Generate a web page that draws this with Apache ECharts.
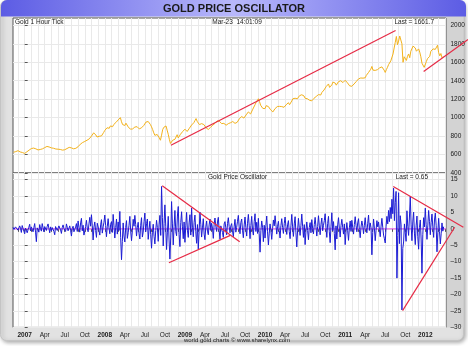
<!DOCTYPE html>
<html><head><meta charset="utf-8">
<style>html,body{margin:0;padding:0;background:#fff;}#c{width:468px;height:346px;}</style>
<script src="https://cdn.jsdelivr.net/npm/echarts@6.0.0/dist/echarts.min.js"></script>
</head><body><div id="c"></div>
<script>
// x values are months counted from 1 Jan 2007
// Gold price sampled 6 times per month, starting 10 Nov 2006
const goldStartMonth = -5 / 3;
const goldStepMonth = 1 / 6;
const goldPrice = [
  625, 636, 632, 638,
  642, 633, 628, 618, 622, 610,
  612, 622, 630, 641, 648, 660,   665, 678, 670, 674, 662, 648,   650, 660, 655, 668, 662, 668,
  675, 690, 688, 680, 682, 678,   672, 663, 668, 672, 660, 654,   658, 662, 655, 645, 648, 651,
  652, 660, 665, 672, 678, 680,   672, 666, 662, 657, 668, 672,   685, 698, 712, 722, 730, 738,
  742, 748, 755, 772, 770, 785,   800, 818, 835, 825, 812, 790,   790, 798, 808, 802, 818, 840,
  862, 880, 890, 905, 885, 910,   910, 902, 925, 938, 948, 968,   975, 990, 1000, 955, 925, 935,
  915, 940, 925, 900, 890, 875,   868, 878, 885, 898, 912, 902,   888, 878, 872, 890, 900, 915,
  935, 952, 968, 958, 950, 925,   900, 870, 835, 808, 828, 818,   805, 780, 755, 810, 870, 895,
  885, 910, 865, 820, 765, 720,   728, 755, 740, 765, 790, 815,   780, 795, 820, 838, 850, 868,
  875, 862, 850, 845, 885, 905,   920, 935, 945, 968, 990, 960,   940, 925, 915, 935, 950, 925,
  905, 890, 880, 872, 890, 895,   905, 918, 925, 938, 955, 965,   980, 960, 945, 935, 930, 938,
  930, 918, 912, 935, 950, 945,   952, 958, 945, 938, 942, 950,   958, 990, 1000, 1012, 1008, 995,
  1002, 1030, 1050, 1062, 1058, 1040,   1060, 1092, 1110, 1140, 1165, 1185,   1205, 1175, 1135, 1118, 1100, 1095,
  1098, 1130, 1150, 1120, 1100, 1085,   1082, 1062, 1070, 1098, 1115, 1120,   1130, 1122, 1108, 1120, 1105, 1112,
  1125, 1140, 1155, 1162, 1140, 1160,   1180, 1205, 1225, 1210, 1190, 1205,   1222, 1238, 1230, 1248, 1245, 1235,
  1210, 1195, 1205, 1190, 1188, 1172,   1182, 1198, 1210, 1222, 1230, 1238,   1250, 1258, 1245, 1272, 1288, 1300,
  1315, 1338, 1348, 1365, 1328, 1345,   1355, 1385, 1405, 1375, 1352, 1370,   1390, 1410, 1400, 1388, 1380, 1395,
  1405, 1385, 1378, 1360, 1345, 1330,   1340, 1352, 1365, 1385, 1392, 1408,   1420, 1412, 1430, 1418, 1428, 1440,
  1432, 1458, 1470, 1490, 1505, 1525,   1555, 1515, 1500, 1512, 1495, 1520,   1535, 1540, 1528, 1550, 1545, 1515,
  1490, 1520, 1545, 1575, 1595, 1615,   1625, 1690, 1755, 1815, 1880, 1790,   1830, 1885, 1900, 1800, 1600, 1660,
  1640, 1620, 1665, 1690, 1650, 1720,   1730, 1775, 1790, 1755, 1720, 1700,   1745, 1710, 1660, 1590, 1610, 1545,
  1565, 1610, 1640, 1660, 1665, 1720,   1740, 1745, 1725, 1740, 1760, 1785,   1705, 1670, 1695, 1650, 1662
];
// Oscillator sampled 8 times per month, starting 8 Nov 2006
const oscStartMonth = -1.75;
const oscStepMonth = 0.125;
const oscillator = [
  0.5, -0.2, -0.8, 0.6, 1.2, 0.3, -0.4, -1.0, 0.9, 0.2, -1.1, 1.0, 0.6, -0.7,
  -1.5, 0.2, 0.8, -1.2, -0.3, 0.5, 1.4, -0.6,    0.6, 1.1, -0.9, 0.4, 1.6, -1.0, -3.9, 0.3,
  0.4, -1.0, 1.3, 0.1, -0.7, 1.6, 1.1, -0.9,     0.7, 1.2, -0.5, 0.8, 1.5, 0.2, -1.2, 0.6,
  -0.6, 0.4, 1.0, -0.8, -1.8, 0.7, 0.5, -0.5,    -0.9, 0.9, 0.6, -0.3, -1.4, 0.4, 1.2, 0.1,
  0.3, -0.8, 1.5, 0.5, -0.6, -1.2, 0.9, -0.4,    -2.2, 0.1, 0.8, -0.9, -1.3, 0.6, 1.6, -0.8,
  2.4, 0.5, -1.0, 1.8, 3.2, -0.6, 1.1, -1.9,     -1.8, 0.7, 2.6, 0.2, -0.9, 1.5, 3.5, 0.8,
  4.3, 0.9, -3.4, 0.6, 2.1, -0.5, -2.6, 1.7,     1.5, -0.4, -1.9, 1.2, 2.8, -1.3, 0.6, 2.0,
  4.2, 1.0, -2.4, 0.8, 3.1, 0.3, -1.5, 1.4,      2.2, -1.1, 4.4, 0.9, -2.8, 0.4, 3.0, -1.6,
  2.1, -0.5, 5.3, -2.6, -9.4, -3.8, 1.8, -2.2,   -4.0, 0.4, 2.5, -2.9, -1.2, 1.1, 3.8, -0.7,
  -3.6, -0.6, 2.9, 0.8, 4.1, 1.3, -2.2, 0.5,     2.0, -1.4, -3.1, 1.1, 3.4, -2.5, -1.0, 2.2,
  4.8, -0.9, 1.6, 3.0, -3.2, -0.3, 2.3, -1.8,    -5.9, -1.2, 1.4, -2.3, -4.6, -0.5, 2.6, 0.4,
  -3.8, 1.2, 4.1, -2.0, 12.9, 3.5, -5.2, 1.6,    7.3, 0.8, -6.3, -1.0, 3.8, -3.4, -9.2, -2.5,
  8.3, 1.5, -4.9, 0.7, 5.6, -0.8, -2.1, 3.9,     6.8, -1.7, -5.4, 1.9, 5.2, 0.6, -3.0, 2.1,
  -4.1, 0.9, 5.0, -0.4, -2.6, 1.8, 4.3, -1.9,    6.3, 0.5, -2.4, 2.0, 4.2, -0.9, -4.4, 1.3,
  -6.1, -0.8, 5.1, 1.4, -2.5, 0.3, 3.1, -1.6,    -3.3, 0.6, 2.4, -0.7, -1.8, 1.2, 3.0, -0.5,
  1.7, 0.2, -2.9, 1.4, 3.3, 0.8, -0.8, 2.1,      3.5, -0.4, -3.2, 0.9, 1.3, -1.1, -2.6, 1.5,
  2.2, 0.3, -1.8, 1.6, 3.4, 0.7, -1.2, 0.9,      1.6, -0.6, -2.4, 0.8, 2.9, -1.0, 0.5, 2.3,
  4.1, 0.6, -1.5, 1.9, 3.0, -0.4, -2.7, 1.2,     3.6, 0.4, -2.2, 1.7, 4.4, 0.9, -3.0, 1.0,
  3.8, -0.3, -1.9, 2.2, 4.6, -0.8, 2.0, -1.4,    3.2, -1.5, -7.1, -0.6, 2.4, 0.5, -3.9, 1.1,
  -2.8, 1.0, 3.9, -0.9, -4.9, -1.3, 1.5, -0.6,   -3.2, 0.1, 2.7, 0.9, 4.0, 1.4, -1.6, 0.8,
  2.3, -0.5, -2.8, 1.0, 3.1, 0.4, -1.4, 1.6,     3.6, 0.7, -1.7, 1.2, 2.5, -0.8, -3.0, 0.9,
  4.4, 0.6, -2.3, 1.5, 3.7, -1.2, -5.5, -0.4,    3.2, 0.3, -2.0, 1.1, 4.5, 0.8, -2.6, 1.3,
  -4.8, -0.7, 2.1, -0.5, -3.3, 0.4, 1.9, -1.2,   2.8, 0.2, -1.5, 1.3, 3.5, 0.6, -2.2, 0.7,
  4.0, 0.9, -1.8, 1.4, 3.3, -0.6, 1.1, 2.5,      4.6, 0.5, -2.6, 1.6, 3.8, -0.9, -4.2, 0.8,
  4.9, -0.6, 2.2, -1.4, -6.4, 0.9, -3.1, 1.2,    3.4, 0.2, -2.5, 1.0, 2.9, 0.5, -1.6, 1.5,
  -4.8, -0.9, 1.9, -0.6, -3.5, 0.3, 2.4, -0.8,   2.6, 0.5, -1.6, 1.3, 3.7, 1.0, -0.9, 1.8,
  3.1, -0.2, -2.7, 0.6, 2.4, 0.9, -1.5, 1.1,     3.4, 0.4, -1.2, 1.7, 4.2, -0.5, 1.8, 0.3,
  -7.9, -1.1, 3.0, 0.2, -3.6, -0.4, 2.5, 0.6,    2.1, -0.3, -2.4, 0.8, 3.2, 0.5, -1.9, -3.0,
  -4.3, 0.8, 3.8, 1.5, 5.6, 2.2, 6.5, 3.1,       9.0, 4.6, 12.4, 2.5, 8.0, 11.4, -15.0, -2.0,
  11.0, -4.5, 4.0, 1.2, -24.7, -6.0, -4.0, 1.5,  2.0, -3.8, 5.5, 0.8, -2.0, 3.6, 9.9, 1.2,
  -3.6, 2.1, 5.1, -1.3, -4.8, 0.9, 3.9, -2.4,    -6.2, 0.4, 2.7, -3.1, -13.5, -1.8, 3.4, 0.6,
  6.3, 1.4, -3.2, 0.9, 5.6, 2.3, -1.8, 2.0,      4.5, 0.6, -2.6, 2.7, 4.8, 1.1, -7.0, -1.2,
  3.2, -0.8, -4.6, -1.5, 1.8, -0.7, 0.65
];
const zeroLevel = 0;
const xTickLabels = ['2007','Apr','Jul','Oct','2008','Apr','Jul','Oct','2009','Apr','Jul','Oct',
  '2010','Apr','Jul','Oct','2011','Apr','Jul','Oct','2012'];
const xLabelMonths = [0,3,6,9,12,15,18,21,24,27,30,33,36,39,42,45,48,51,54,57,60];
const xTickMonths = [-1,0,1,2,3,4,5,6,7,8,9,10,11,12,13,14,15,16,17,18,19,20,21,22,23,24,25,26,27,28,29,30,
  31,32,33,34,35,36,37,38,39,40,41,42,43,44,45,46,47,48,49,50,51,52,53,54,55,56,57,58,59,60,61,62,63];
const priceTicks = [400,600,800,1000,1200,1400,1600,1800,2000];
const oscTicks = [-30,-25,-20,-15,-10,-5,0,5,10,15];
// trend lines as [month, value] pairs
const priceTrendLines = [
  [[21.9, 700], [55.55, 1945]],
  [[59.75, 1500], [66.4, 1846]]
];
const oscTrendLines = [
  [[20.6, 13.1], [32.2, -3.9]],
  [[21.6, -10.3], [30.8, -2.0]],
  [[55.2, 12.9], [65.7, 0.5]],
  [[56.6, -24.9], [64.4, 0.5]]
];
const lastPrice = '1661.7';
const lastOsc = '0.65';
const stamp = 'Mar-23  14:01:09';

const FONT = 'Liberation Sans';
const xMin = -1.75, xMax = 63.1;
const W = 468, LEFT = 13, RIGHT = 22;
// overlay axes extend the same month scale across the right-hand margin (for trend lines that run past the frame)
const xMaxExt = xMax + RIGHT * (xMax - xMin) / (W - LEFT - RIGHT);

const goldData = goldPrice.map((v, i) => [goldStartMonth + i * goldStepMonth, v]);
const oscData = oscillator.map((v, i) => [oscStartMonth + i * oscStepMonth, v]);

const chart = echarts.init(document.getElementById('c'), null, {renderer: 'canvas'});

function txt(text, x, y, align, size, weight) {
  return {type: 'text', z: 100, style: {text, x, y, textAlign: align, textVerticalAlign: 'middle',
    align: align, verticalAlign: 'middle', font: (weight || 'normal') + ' ' + size + 'px "' + FONT + '"', fill: '#1a1a1a'}};
}

const gridLine = {show: true, lineStyle: {color: '#e9e9e9', width: 1}};

const series = [
  {type: 'line', xAxisIndex: 0, yAxisIndex: 0, data: goldData, symbol: 'none',
   lineStyle: {color: '#f3b21b', width: 1}, z: 3, silent: true},
  {type: 'line', xAxisIndex: 1, yAxisIndex: 1, data: [[xMin, zeroLevel], [xMax, zeroLevel]], symbol: 'none',
   lineStyle: {color: '#e64ce6', width: 1}, z: 2, silent: true},
  {type: 'line', xAxisIndex: 1, yAxisIndex: 1, data: oscData, symbol: 'none',
   lineStyle: {color: '#1c1cd4', width: 1}, z: 3, silent: true}
];
priceTrendLines.forEach(seg => series.push({type: 'line', xAxisIndex: 2, yAxisIndex: 2, data: seg,
  symbol: 'none', clip: false, lineStyle: {color: '#e62a45', width: 1.2}, z: 5, silent: true}));
oscTrendLines.forEach(seg => series.push({type: 'line', xAxisIndex: 3, yAxisIndex: 3, data: seg,
  symbol: 'none', clip: false, lineStyle: {color: '#e62a45', width: 1.2}, z: 5, silent: true}));

chart.setOption({
  animation: false,
  textStyle: {fontFamily: FONT},
  grid: [
    {left: LEFT, right: RIGHT, top: 18, height: 155, show: true, backgroundColor: '#fff', borderColor: '#555', borderWidth: 1},
    {left: LEFT, right: RIGHT, top: 173, bottom: 18.6, show: true, backgroundColor: '#fff', borderColor: '#555', borderWidth: 1},
    {left: LEFT, right: 0, top: 18, height: 155, show: false},
    {left: LEFT, right: 0, top: 173, bottom: 18.6, show: false}
  ],
  xAxis: [
    {type: 'value', gridIndex: 0, min: xMin, max: xMax,
     axisLine: {show: false}, axisLabel: {show: false},
     axisTick: {show: false, customValues: xTickMonths}, splitLine: gridLine},
    {type: 'value', gridIndex: 1, min: xMin, max: xMax,
     axisLine: {show: false},
     axisTick: {show: true, length: 3, inside: false, lineStyle: {color: '#555'}, customValues: xTickMonths},
     splitLine: gridLine,
     axisLabel: {show: true, customValues: xLabelMonths, margin: 4, hideOverlap: false,
       formatter: v => { const i = Math.round(v / 3); const s = xTickLabels[i]; return i % 4 === 0 ? '{y|' + s + '}' : '{m|' + s + '}'; },
       rich: {y: {fontWeight: 'bold', fontSize: 6.5, fontFamily: FONT, color: '#1a1a1a'},
              m: {fontSize: 6.5, fontFamily: FONT, color: '#1a1a1a'}}}},
    {type: 'value', gridIndex: 2, min: xMin, max: xMaxExt, show: false},
    {type: 'value', gridIndex: 3, min: xMin, max: xMaxExt, show: false}
  ],
  yAxis: [
    {type: 'value', gridIndex: 0, position: 'right', min: 400, max: 2080,
     axisLine: {show: false},
     axisTick: {show: true, length: 3, lineStyle: {color: '#555'}, customValues: priceTicks},
     axisLabel: {customValues: priceTicks, margin: 4.5, fontSize: 6.5, color: '#1a1a1a', fontFamily: FONT,
       formatter: v => String(v)},
     splitLine: gridLine},
    {type: 'value', gridIndex: 1, position: 'right', min: -30, max: 17,
     axisLine: {show: false},
     axisTick: {show: true, length: 3, lineStyle: {color: '#555'}, customValues: oscTicks},
     axisLabel: {customValues: oscTicks, margin: 4.5, fontSize: 6.5, color: '#1a1a1a', fontFamily: FONT,
       formatter: v => v < 0 ? '\u2013' + Math.abs(v) : String(v)},
     splitLine: gridLine},
    {type: 'value', gridIndex: 2, min: 400, max: 2080, show: false},
    {type: 'value', gridIndex: 3, min: -30, max: 17, show: false}
  ],
  graphic: [
    {type: 'rect', z: -100, shape: {x: 0.5, y: 0.5, width: 463, height: 340, r: 6},
     style: {fill: '#e2e2e2', stroke: '#c4c4c4', lineWidth: 1, shadowBlur: 4, shadowColor: 'rgba(0,0,0,0.35)', shadowOffsetX: 1.5, shadowOffsetY: 1.5}},
    {type: 'rect', z: -99, shape: {x: 446, y: 16, width: 17.5, height: 311.4},
     style: {fill: '#d3d3d3'}},
    {type: 'rect', z: -98, shape: {x: 1, y: 0, width: 465, height: 16.5, r: [6, 6, 0, 0]},
     style: {fill: new echarts.graphic.LinearGradient(0, 0, 1, 0, [
       {offset: 0, color: '#5c5ce4'}, {offset: 0.5, color: '#b8b8fb'}, {offset: 1, color: '#5c5ce4'}])}},
    txt('GOLD PRICE OSCILLATOR', 234, 8.5, 'center', 11, 'bold'),
    txt('Gold 1 Hour Tick', 15, 22.5, 'left', 6.5),
    txt(stamp, 237, 22.5, 'center', 6.5),
    txt('Last = ' + lastPrice, 434, 22.5, 'right', 6.5),
    txt('Gold Price Oscillator', 237.5, 177.5, 'center', 6.5),
    txt('Last = ' + lastOsc, 428, 177.5, 'right', 6.5),
    txt('world gold charts \u00a9 www.sharelynx.com', 237, 340, 'center', 6)
  ],
  series
});
</script></body></html>
